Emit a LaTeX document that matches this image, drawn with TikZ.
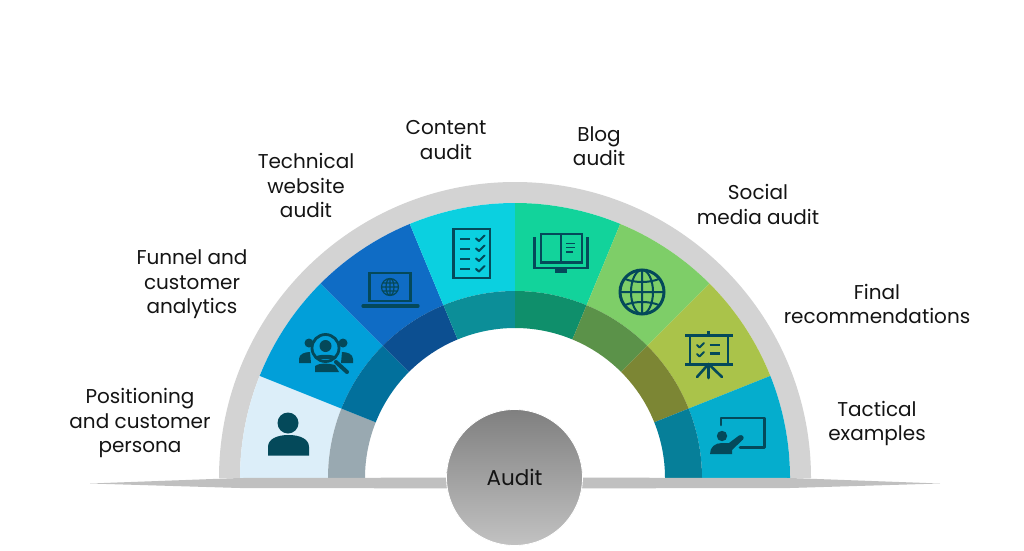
\documentclass[tikz,border=0pt]{standalone}
\usepackage{fontspec}
\setmainfont{Poppins}
\definecolor{ringgray}{HTML}{D3D3D3}
\definecolor{linegray}{HTML}{C0C0C0}
\definecolor{iconc}{HTML}{04495A}
\definecolor{cA}{HTML}{DCEEF9}\definecolor{dA}{HTML}{99A9B1}
\definecolor{cB}{HTML}{019FD9}\definecolor{dB}{HTML}{02709C}
\definecolor{cC}{HTML}{0F6CC5}\definecolor{dC}{HTML}{0C4F91}
\definecolor{cD}{HTML}{0BD0E0}\definecolor{dD}{HTML}{0C8E98}
\definecolor{cE}{HTML}{12D39B}\definecolor{dE}{HTML}{0F8F6B}
\definecolor{cF}{HTML}{7ECE68}\definecolor{dF}{HTML}{5B9249}
\definecolor{cG}{HTML}{AAC34A}\definecolor{dG}{HTML}{7C8634}
\definecolor{cH}{HTML}{05ADCD}\definecolor{dH}{HTML}{067F99}
\newcommand{\ringseg}[5]{\fill[#5] ([shift={(#1:#3)}]515,72) arc[start angle=#1,end angle=#2,radius=#3] -- ([shift={(#2:#4)}]515,72) arc[start angle=#2,end angle=#1,radius=#4] -- cycle;}
\newcommand{\slicepair}[4]{\ringseg{#1}{#2}{275}{187}{#3}\ringseg{#1}{#2}{187}{150}{#4}}
\tikzset{
  lbl/.style={font=\fontsize{20}{24.6}\selectfont, align=center, text=black!92, inner sep=0pt},
  ico/.style={draw=iconc, line width=2.8pt, fill=none},
  thinico/.style={draw=iconc, line width=2pt, fill=none},
  chk/.style={draw=iconc, line width=2.1pt, line cap=round, line join=round},
}
\begin{document}
\begin{tikzpicture}[x=1pt,y=1pt]
\useasboundingbox (0,0) rectangle (1024,550);
\fill[white] (0,0) rectangle (1024,550);
% grey ring
\ringseg{0}{180}{296}{275}{ringgray}
% segments, left to right
\slicepair{158.2}{180}{cA}{dA}
\slicepair{135}{158.2}{cB}{dB}
\slicepair{112.5}{135}{cC}{dC}
\slicepair{90}{112.5}{cD}{dD}
\slicepair{67.5}{90}{cE}{dE}
\slicepair{45}{67.5}{cF}{dF}
\slicepair{21.8}{45}{cG}{dG}
\slicepair{0}{21.8}{cH}{dH}
\begin{scope}[yshift=550pt,y=-1pt]
% horizon line
\fill[linegray] (90,483.5) -- (240,478) -- (515,477.5) -- (790,478) -- (940,483.5) -- (790,488) -- (515,488.5) -- (240,488) -- cycle;
% centre circle
\shade[top color=black!50,bottom color=black!24,draw=white,line width=0.8pt] (514.5,477.5) circle[radius=68];
\node[lbl,font=\fontsize{21.5}{25}\selectfont] (audit) at (514.5,477) {Audit};
% labels
\node[lbl] (l1) at (140,423) {Positioning\\and customer\\persona};
\node[lbl] (l2) at (192,284.5) {Funnel and\\customer\\analytics};
\node[lbl] (l3) at (306,185.5) {Technical\\website\\audit};
\node[lbl] (l4) at (446,140) {Content\\audit};
\node[lbl] (l5) at (599,146) {Blog\\audit};
\node[lbl] (l6) at (758,204.5) {Social\\media audit};
\node[lbl] (l7) at (877,304) {Final\\recommendations};
\node[lbl] (l8) at (877,423.5) {Tactical\\examples};
% person icon
\fill[iconc] (288,423) circle[radius=10.5];
\fill[iconc] (268,455.5) -- (268,447) .. controls (268,439) and (277,435) .. (288.5,435) .. controls (300,435) and (309,439) .. (309,447) -- (309,455.5) -- cycle;
% funnel icon
\fill[iconc] (309,343) circle[radius=4.5];
\fill[iconc] (343,343) circle[radius=4.5];
\fill[iconc] (299,363) -- (299,359) .. controls (299,354) and (305,352) .. (310,352) -- (311,363) -- cycle;
\fill[iconc] (353,363) -- (353,359) .. controls (353,354) and (347,352) .. (342,352) -- (341,363) -- cycle;
\draw[ico,line width=2.8pt,fill=cB] (325.5,348) circle[radius=13.5];
\fill[iconc] (325.5,346) circle[radius=6];
\fill[iconc] (315,357) .. controls (318,354) and (333,354) .. (336,357) .. controls (332,360) and (319,360) .. (315,357) -- cycle;
\fill[iconc] (315,372) -- (315,366) .. controls (319,363) and (327,363) .. (335,365) -- (339,372) -- cycle;
\draw[draw=iconc,line width=4pt,line cap=round] (336,362) -- (347,372);
% laptop icon
\draw[ico] (369.5,273) rectangle (410.5,301);
\draw[iconc,line width=3.2pt,line cap=round] (363,306) -- (418,306);
\draw[draw=iconc,line width=1.2pt] (390,287) circle[radius=8.5] (381.5,287) -- (398.5,287) (390,278.5) -- (390,295.5) (390,287) ellipse[x radius=4,y radius=8.5] (382.5,283) -- (397.5,283) (382.5,291) -- (397.5,291);
% checklist icon
\draw[ico] (453.5,229) rectangle (490,278);
\foreach \yy in {238.5,248.5,258.5,269}{
  \draw[iconc,line width=2pt] (460,\yy) -- (470,\yy);
  \draw[chk] (476,\yy) -- (479,\yy+2.5) -- (484.5,\yy-3);
}
% book icon
\draw[ico] (541,234) rectangle (582,262.5) (561,234) -- (561,262.5);
\draw[ico] (534.5,237) -- (534.5,268) -- (587.5,268) -- (587.5,237);
\draw[iconc,line width=1.6pt] (566,243.5) -- (575,243.5) (566,247.5) -- (575,247.5) (566,252) -- (573,252);
\fill[iconc] (555,268) rectangle (567,273);
% globe icon
\draw[ico,line width=3pt] (642,292) circle[radius=22];
\draw[thinico] (642,270) -- (642,314) (620,292) -- (664,292) (642,292) ellipse[x radius=11,y radius=22] (625,279) .. controls (635,283) and (649,283) .. (659,279) (625,305) .. controls (635,301) and (649,301) .. (659,305);
% presentation icon
\draw[iconc,line width=3pt] (685,335) -- (733,335) (685,364) -- (733,364);
\draw[iconc,line width=2.8pt] (690,335) -- (690,364) (728,335) -- (728,364) (708.5,331) -- (708.5,335);
\draw[iconc,line width=2.6pt,line cap=round] (708.5,364) -- (708.5,378) (708.5,364) -- (697,377) (708.5,364) -- (722,377);
\draw[chk,line width=2pt] (697,345) -- (699.5,347.5) -- (704,343) (697,354) -- (699.5,356.5) -- (704,352);
\draw[iconc,line width=2.2pt] (709.5,345) -- (720,345) (709.5,353.5) -- (720,353.5);
% teaching icon
\draw[iconc,line width=2.6pt,line cap=round,line join=round] (721,425) -- (721,418) -- (764.5,418) -- (764.5,447.5) -- (740,447.5);
\fill[iconc] (722,436) circle[radius=5.2];
\fill[iconc] (710,454) .. controls (710,447) and (715,443) .. (722,443) -- (729,443) -- (739,435.5) .. controls (742,434) and (745,437) .. (743,439.5) -- (732,450) -- (732,454) -- cycle;
\end{scope}
\end{tikzpicture}
\end{document}
